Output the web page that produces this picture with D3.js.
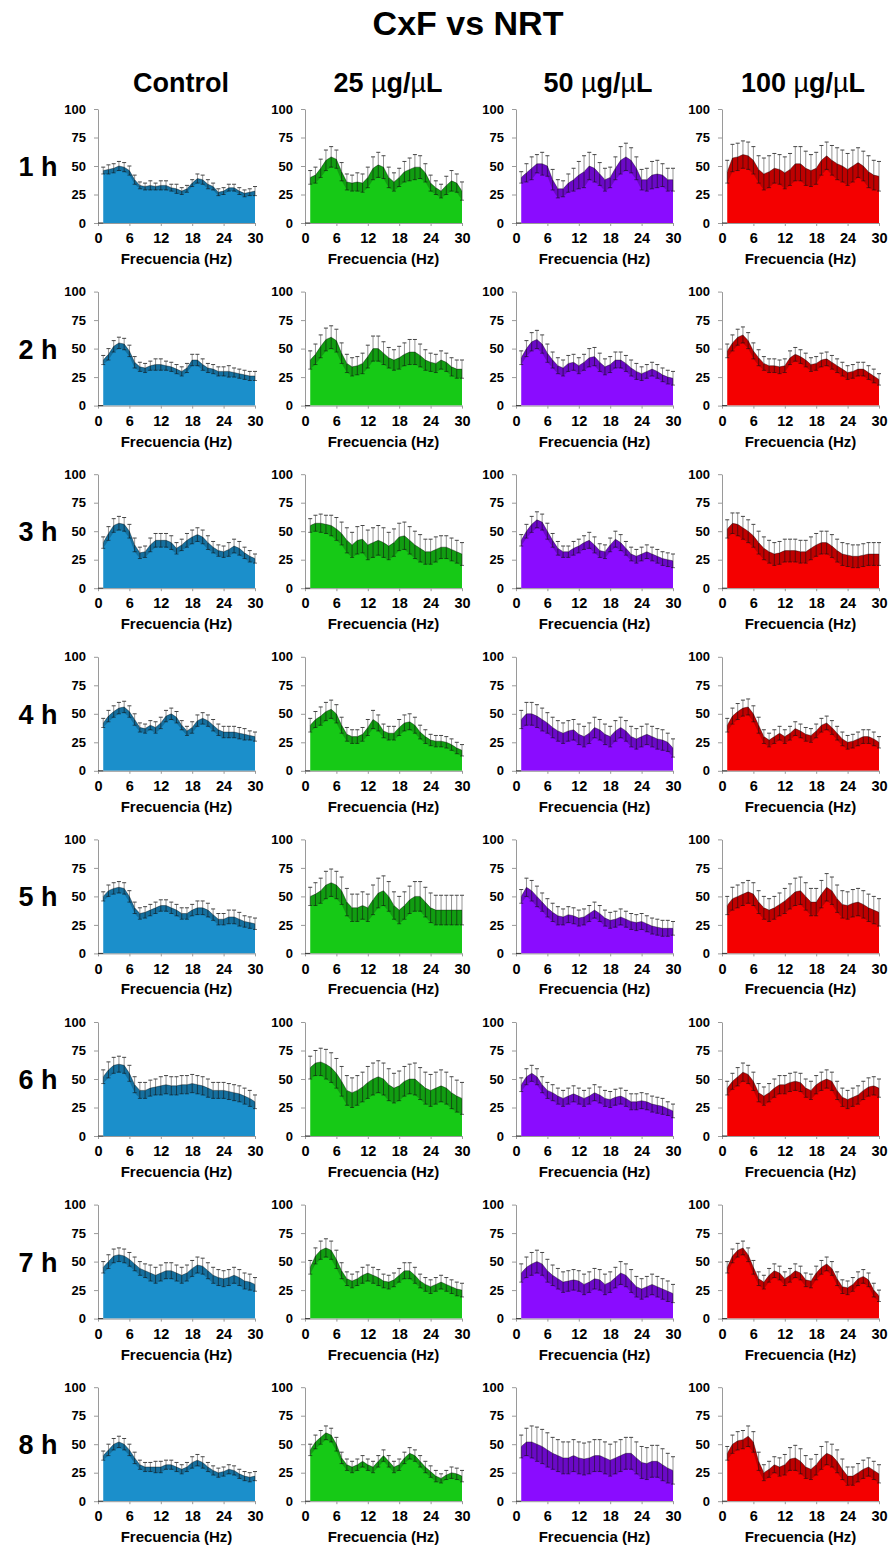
<!DOCTYPE html>
<html>
<head>
<meta charset="utf-8">
<script src="https://cdn.jsdelivr.net/npm/d3@7"></script>
<style>
  body { margin: 0; background: #fff; }
  text { font-family: "Liberation Sans", Arial, sans-serif; font-weight: bold; fill: #000; }
</style>
</head>
<body>
<svg id="chart" width="896" height="1553"></svg>
<script>
// Frequency bins (Hz)
const freqs = [1,2,3,4,5,6,7,8,9,10,11,12,13,14,15,16,17,18,19,20,21,22,23,24,25,26,27,28,29,30];
const xTicks = [0, 6, 12, 18, 24, 30];
const yTicks = [0, 25, 50, 75, 100];

const groups = ["Control", "25", "50", "100"];
const hours = ["1 h", "2 h", "3 h", "4 h", "5 h", "6 h", "7 h", "8 h"];
const groupColors = ["#1b8fcb", "#16c916", "#8a0cff", "#f40000"];

// Mean power per frequency bin, one row per hour
const controlMean = [
  [46,47,48,50,49,46,38,33,32,33,32,33,33,31,30,28,30,35,39,38,34,32,27,28,31,31,28,26,27,28],
  [40,45,52,55,54,48,38,34,33,35,36,36,35,34,32,30,33,40,40,36,33,32,30,30,30,29,28,27,26,26],
  [40,48,55,57,56,50,38,31,32,38,42,42,42,40,35,38,42,45,47,45,40,36,33,32,34,37,35,31,28,26],
  [42,48,52,55,56,52,45,38,37,40,38,42,48,50,47,40,35,38,44,46,44,40,36,34,34,34,33,32,31,30],
  [50,55,57,58,57,50,40,35,36,38,40,42,42,40,38,35,35,38,40,40,38,34,30,30,32,32,30,28,27,26],
  [52,58,62,63,62,55,45,40,40,42,43,44,45,44,44,45,45,46,45,44,42,40,40,40,39,38,37,35,33,30],
  [45,50,55,56,55,52,48,44,42,40,38,40,42,42,40,38,40,44,47,46,42,38,36,35,36,38,36,33,32,30],
  [40,45,50,52,50,45,38,32,30,30,30,30,32,32,30,28,30,34,36,34,30,27,25,26,28,27,24,22,21,22]
];
const dose25Mean = [
  [40,42,48,55,58,56,45,36,35,36,35,40,48,51,49,40,36,40,45,47,49,49,44,35,31,28,33,37,35,28],
  [40,45,52,58,60,57,46,37,34,35,37,43,50,50,46,42,40,42,45,47,47,44,40,38,37,40,38,34,32,32],
  [55,57,57,56,55,52,48,42,38,42,43,38,40,42,40,37,40,45,46,42,38,35,32,32,34,36,36,34,32,30],
  [40,45,48,52,54,50,40,32,30,30,32,38,45,42,35,33,33,38,42,43,40,34,30,27,26,26,25,23,20,18],
  [50,52,55,60,62,60,55,45,40,40,42,40,47,53,55,50,42,38,42,47,50,50,45,40,38,38,38,38,38,38],
  [60,64,65,63,60,55,48,40,38,40,43,47,50,52,50,45,42,44,48,50,50,46,42,40,42,44,42,38,35,33],
  [45,55,60,62,60,52,42,35,33,35,38,40,38,36,33,32,34,38,42,42,38,33,30,28,30,32,30,28,26,25],
  [45,52,56,60,58,50,38,32,30,32,35,32,30,35,40,35,30,32,38,42,40,35,30,26,22,20,23,25,24,22]
];
const dose50Mean = [
  [40,44,48,52,52,50,38,30,30,35,38,42,45,50,48,43,38,40,48,55,58,55,48,38,38,42,43,42,38,38],
  [42,50,56,58,54,46,40,35,33,37,38,35,38,42,43,38,34,36,40,40,37,33,30,28,30,32,30,27,25,24],
  [42,50,56,60,58,50,42,35,32,32,35,37,40,42,38,33,32,38,43,40,35,30,28,30,32,30,28,26,25,24],
  [45,50,50,48,45,42,38,35,33,35,36,32,30,33,38,36,32,30,35,38,35,30,28,30,32,30,28,27,25,20],
  [50,58,55,50,45,40,36,33,32,34,33,31,32,35,38,35,31,29,30,32,30,28,27,28,26,24,23,22,22,22],
  [45,52,55,52,45,40,38,35,33,35,37,35,33,35,38,36,33,32,34,35,33,30,30,31,30,28,27,26,24,22],
  [40,45,48,50,48,42,38,35,32,33,34,33,30,32,35,34,30,32,36,40,38,33,28,26,28,30,28,26,24,22],
  [48,52,52,50,48,45,42,40,38,38,40,38,37,38,40,40,38,36,38,40,42,42,38,34,33,35,35,32,29,27]
];
const dose100Mean = [
  [45,57,58,60,59,55,47,43,45,48,47,44,47,52,52,48,46,48,55,59,55,52,50,47,50,53,50,45,42,41],
  [48,55,60,62,57,48,42,37,35,35,34,35,42,45,43,40,36,37,40,41,38,35,32,29,30,32,32,29,26,23],
  [52,57,56,53,50,46,40,35,32,30,31,33,33,33,32,32,35,38,40,40,37,33,30,29,28,28,29,30,30,30],
  [40,48,52,55,56,50,40,30,27,30,33,30,33,37,35,32,31,35,40,42,38,33,28,25,26,28,30,30,28,25],
  [42,48,50,52,54,52,45,40,38,40,43,46,50,54,55,50,45,45,52,58,55,48,43,42,44,45,43,40,38,36],
  [42,48,52,56,54,48,38,35,38,42,45,45,47,48,47,42,40,45,48,50,48,40,34,32,34,36,40,43,44,42],
  [45,55,60,62,56,45,35,32,38,42,40,35,38,42,40,34,33,40,45,48,44,35,28,27,30,35,37,34,25,20],
  [42,50,53,54,57,52,35,25,28,32,30,32,37,38,35,30,28,32,38,42,40,35,28,22,22,25,28,30,27,24]
];

// Standard error per frequency bin
const controlErr = [
  [3,4,4,4,4,4,4,3,3,4,3,4,4,3,4,3,3,3,4,4,4,3,3,3,3,3,3,3,3,4],
  [4,5,5,5,5,5,5,4,4,4,5,5,4,4,4,4,4,5,5,5,4,4,4,4,5,4,4,4,4,4],
  [5,6,6,6,6,6,6,5,5,6,6,6,6,6,5,5,6,6,6,6,6,5,5,5,6,6,6,5,5,4],
  [4,5,5,5,5,5,5,4,4,4,5,5,5,5,5,4,4,5,5,5,5,5,5,5,5,5,5,5,4,4],
  [4,5,5,5,5,5,5,5,5,5,5,5,5,5,5,5,5,5,6,6,6,5,5,5,6,6,6,5,5,5],
  [6,7,7,7,7,7,7,7,7,7,7,8,8,8,8,8,8,8,8,8,8,7,7,7,7,7,7,7,7,6],
  [5,6,6,6,6,6,6,6,6,7,7,7,7,7,7,7,7,7,7,7,7,7,7,7,7,7,7,7,7,6],
  [4,5,5,5,5,5,5,4,4,4,5,5,4,4,4,4,4,5,5,5,4,4,4,4,4,4,4,4,4,4]
];
const dose25Err = [
  [6,7,8,9,9,8,8,7,7,8,8,9,10,11,10,9,8,8,9,10,11,10,8,7,6,6,8,9,8,8],
  [8,9,10,10,10,10,9,8,8,8,9,10,11,11,10,9,9,10,10,11,11,10,9,8,8,8,8,8,8,8],
  [6,7,8,8,9,10,10,11,11,12,12,13,13,13,13,12,12,12,12,12,12,12,11,11,11,10,10,10,10,10],
  [6,7,8,8,8,8,7,6,6,6,6,7,8,7,6,6,6,7,7,7,7,6,6,5,5,5,5,5,5,5],
  [8,10,11,12,12,12,12,12,12,12,12,12,13,13,13,13,12,12,12,12,13,13,13,13,13,13,13,13,13,13],
  [10,11,12,13,13,13,13,13,13,13,13,14,14,14,14,14,13,13,13,13,14,14,14,14,14,14,14,14,14,14],
  [6,7,8,8,8,8,7,6,6,6,7,7,7,7,6,6,6,6,7,7,7,6,6,6,6,6,6,6,6,6],
  [5,6,6,6,6,6,5,5,5,5,5,5,5,5,5,5,5,5,5,5,5,5,5,5,5,4,4,5,5,5]
];
const dose50Err = [
  [5,8,10,8,10,9,9,8,7,8,10,12,14,12,12,10,10,9,10,12,12,11,10,9,10,12,12,10,10,10],
  [6,7,8,8,8,8,7,7,7,7,7,7,7,8,8,8,7,7,7,7,7,7,7,6,6,6,6,6,6,6],
  [5,6,7,7,7,7,6,6,5,5,6,6,6,7,7,6,6,6,7,7,6,6,6,6,6,6,6,6,6,6],
  [8,10,10,10,10,9,9,9,9,9,9,9,9,9,9,9,9,9,9,9,9,9,9,9,9,9,9,9,8,8],
  [6,8,9,9,8,8,8,8,7,7,7,7,7,7,7,7,7,7,7,7,7,7,7,7,7,7,7,7,7,6],
  [6,7,7,7,7,7,7,7,7,7,7,7,7,7,7,7,7,7,7,7,7,7,7,7,7,7,7,7,6,6],
  [8,9,10,10,10,10,9,9,9,9,9,9,9,9,9,9,9,9,9,10,10,10,9,9,9,9,9,9,9,8],
  [10,12,14,15,15,15,14,14,14,14,14,14,14,14,14,14,14,14,14,14,14,14,14,14,14,14,14,14,13,12]
];
const dose100Err = [
  [10,12,12,12,12,12,12,14,14,13,13,14,14,15,15,15,14,14,13,12,13,14,14,14,14,13,13,14,13,13],
  [6,7,7,7,7,7,7,6,6,6,6,6,6,6,6,6,6,6,6,6,6,6,6,6,6,6,6,6,6,5],
  [8,9,10,10,10,10,10,10,10,10,10,10,10,10,10,10,10,10,10,10,10,10,10,10,10,10,10,10,10,10],
  [6,7,7,7,7,7,7,6,6,6,6,6,6,6,6,6,6,6,6,6,6,6,6,6,6,6,6,6,6,5],
  [8,10,10,10,10,10,10,10,10,10,10,11,11,12,12,12,12,12,12,12,12,12,12,12,12,12,12,12,12,12],
  [6,7,8,8,8,8,8,8,8,8,8,8,8,8,8,8,8,8,8,8,8,8,8,8,8,8,8,8,8,8],
  [5,6,6,6,6,6,6,6,6,6,6,6,6,6,6,6,6,6,6,6,6,6,6,6,6,6,6,6,6,5],
  [6,8,8,8,9,9,8,7,7,7,8,9,10,11,11,10,9,9,10,10,10,10,9,8,8,8,8,8,8,8]
];

const means = [controlMean, dose25Mean, dose50Mean, dose100Mean];
const errs = [controlErr, dose25Err, dose50Err, dose100Err];

// Panel grid geometry
const colLeft = [98, 305, 516, 722];
const plotW = 157;
const plotH = 114;
const firstBase = 223;
const rowStep = 182.6;

const svg = d3.select("#chart");

// Title
svg.append("text")
  .attr("x", 468).attr("y", 35)
  .attr("text-anchor", "middle")
  .style("font-size", "34px")
  .text("CxF vs NRT");

// Column headers
const headerX = [181, 388, 598, 803];
groups.forEach((g, c) => {
  const t = svg.append("text")
    .attr("x", headerX[c]).attr("y", 92)
    .attr("text-anchor", "middle")
    .style("font-size", "27px");
  if (g === "Control") {
    t.text("Control");
  } else {
    t.append("tspan").text(g + " ");
    t.append("tspan").style("font-weight", "normal").text("\u00b5");
    t.append("tspan").text("g/");
    t.append("tspan").style("font-weight", "normal").text("\u00b5");
    t.append("tspan").text("L");
  }
});

const x = d3.scaleLinear().domain([0, 30]).range([0, plotW]);
const y = d3.scaleLinear().domain([0, 100]).range([plotH, 0]);

hours.forEach((h, r) => {
  const base = firstBase + r * rowStep;
  const top = base - plotH;

  // Row label
  svg.append("text")
    .attr("x", 38).attr("y", top + y(50) + 10)
    .attr("text-anchor", "middle")
    .style("font-size", "27px")
    .text(h);

  groups.forEach((g, c) => {
    const m = means[c][r];
    const e = errs[c][r];
    const pts = freqs.map((f, i) => ({ f, m: m[i], e: e[i] }));
    const panel = svg.append("g").attr("transform", `translate(${colLeft[c]},${top})`);

    // Filled spectrum
    panel.append("path")
      .attr("fill", groupColors[c])
      .attr("d", d3.area().x(d => x(d.f)).y0(y(0)).y1(d => y(d.m))(pts));

    // Lower error band inside the fill
    panel.append("path")
      .attr("fill", "#000").attr("fill-opacity", 0.22)
      .attr("d", d3.area().x(d => x(d.f)).y0(d => y(Math.max(0, d.m - d.e))).y1(d => y(d.m))(pts));

    // Error bars: upper half (over white) and lower half (inside fill)
    const bars = panel.append("g");
    bars.selectAll("line.up").data(pts).join("line")
      .attr("x1", d => x(d.f)).attr("x2", d => x(d.f))
      .attr("y1", d => y(d.m)).attr("y2", d => y(d.m + d.e))
      .attr("stroke", "#959595").attr("stroke-width", 1);
    bars.selectAll("line.capUp").data(pts).join("line")
      .attr("x1", d => x(d.f) - 2).attr("x2", d => x(d.f) + 2)
      .attr("y1", d => y(d.m + d.e)).attr("y2", d => y(d.m + d.e))
      .attr("stroke", "#444").attr("stroke-width", 1);
    bars.selectAll("line.down").data(pts).join("line")
      .attr("x1", d => x(d.f)).attr("x2", d => x(d.f))
      .attr("y1", d => y(d.m)).attr("y2", d => y(d.m - d.e))
      .attr("stroke", "#111").attr("stroke-opacity", 0.55).attr("stroke-width", 1);
    bars.selectAll("line.capDown").data(pts).join("line")
      .attr("x1", d => x(d.f) - 2).attr("x2", d => x(d.f) + 2)
      .attr("y1", d => y(d.m - d.e)).attr("y2", d => y(d.m - d.e))
      .attr("stroke", "#111").attr("stroke-opacity", 0.6).attr("stroke-width", 1);

    // Mean outline
    panel.append("path")
      .attr("fill", "none").attr("stroke", "#000").attr("stroke-opacity", 0.35).attr("stroke-width", 1)
      .attr("d", d3.line().x(d => x(d.f)).y(d => y(d.m))(pts));

    // Axes
    const yAxis = panel.append("g")
      .call(d3.axisLeft(y).tickValues(yTicks).tickSize(4).tickSizeOuter(0).tickPadding(8));
    const xAxis = panel.append("g").attr("transform", `translate(0,${plotH})`)
      .call(d3.axisBottom(x).tickValues(xTicks).tickSize(3).tickSizeOuter(0).tickPadding(7));
    [yAxis, xAxis].forEach(a => {
      a.select(".domain").attr("stroke", "#9a9a9a");
      a.selectAll(".tick line").attr("stroke", "#9a9a9a");
      a.selectAll(".tick text")
        .attr("fill", "#000")
        .style("font-family", "'Liberation Sans', Arial, sans-serif")
        .style("font-weight", "bold");
    });
    yAxis.selectAll(".tick text").style("font-size", "13px");
    xAxis.selectAll(".tick text").style("font-size", "14.5px");
    // dark baseline segment below the first bin
    panel.append("line")
      .attr("x1", x(0)).attr("x2", x(freqs[0]))
      .attr("y1", y(0)).attr("y2", y(0))
      .attr("stroke", "#333").attr("stroke-width", 1);

    // Axis title
    panel.append("text")
      .attr("x", plotW / 2).attr("y", plotH + 41)
      .attr("text-anchor", "middle")
      .style("font-size", "15px")
      .text("Frecuencia (Hz)");
  });
});
</script>
</body>
</html>
